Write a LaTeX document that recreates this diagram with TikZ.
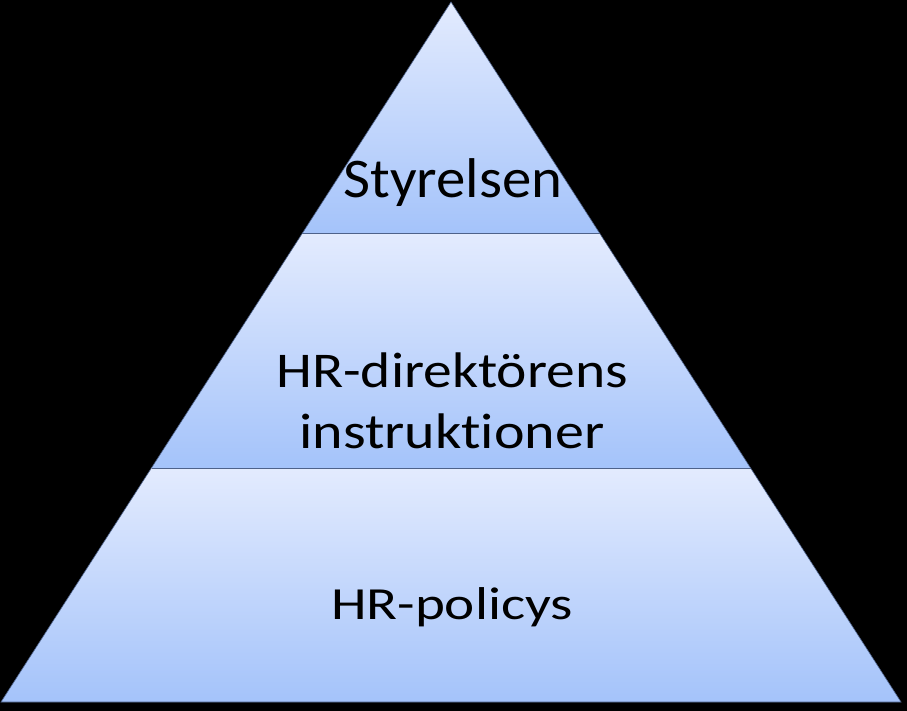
\documentclass[tikz,border=0pt]{standalone}
\usepackage{fontspec}
\setmainfont{Carlito}[Ligatures=NoCommon]
\usetikzlibrary{positioning}

\definecolor{warstwaGora}{RGB}{227,235,254}
\definecolor{warstwaDol}{RGB}{164,195,250}
\definecolor{linia}{RGB}{78,98,138}

\begin{document}
\begin{tikzpicture}[x=1pt, y=-1pt,
  every node/.style={inner sep=0pt, text=black},
  warstwa/.style={top color=warstwaGora, bottom color=warstwaDol},
  podzial/.style={draw=linia, line width=1pt}]

% tlo
\fill[black] (0,0) rectangle (907,711);
\useasboundingbox (0,0) rectangle (907,711);

% wierzcholki piramidy
\coordinate (szczyt) at (451,2);
\coordinate (lewyDol) at (1,702);
\coordinate (prawyDol) at (901,702);
\coordinate (a1) at (302,234);
\coordinate (a2) at (600,234);
\coordinate (b1) at (151.5,468);
\coordinate (b2) at (750.5,468);

% warstwy
\shade[warstwa] (szczyt) -- (a2) -- (a1) -- cycle;
\shade[warstwa] (a1) -- (a2) -- (b2) -- (b1) -- cycle;
\shade[warstwa] (b1) -- (b2) -- (prawyDol) -- (lewyDol) -- cycle;

% linie podzialu
\draw[podzial] (a1) -- (a2);
\draw[podzial] (b1) -- (b2);
\draw[draw=linia, line width=0.6pt] (szczyt) -- (prawyDol) -- (lewyDol) -- cycle;

% napisy
\node[anchor=base, font=\fontsize{56}{67}\selectfont] (styrelsen) at (453,198) {\scalebox{1.05}[1]{Styrelsen}};
\node[anchor=base, font=\fontsize{50}{61}\selectfont] (dyr1) at (452,387) {\scalebox{1.15}[1]{HR-direktörens}};
\node[anchor=base, font=\fontsize{50}{61}\selectfont] (dyr2) at (452,448) {\scalebox{1.16}[1]{instruktioner}};
\node[anchor=base, font=\fontsize{46}{56}\selectfont] (policy) at (452,619) {\scalebox{1.24}[1]{HR-policys}};
\end{tikzpicture}
\end{document}
